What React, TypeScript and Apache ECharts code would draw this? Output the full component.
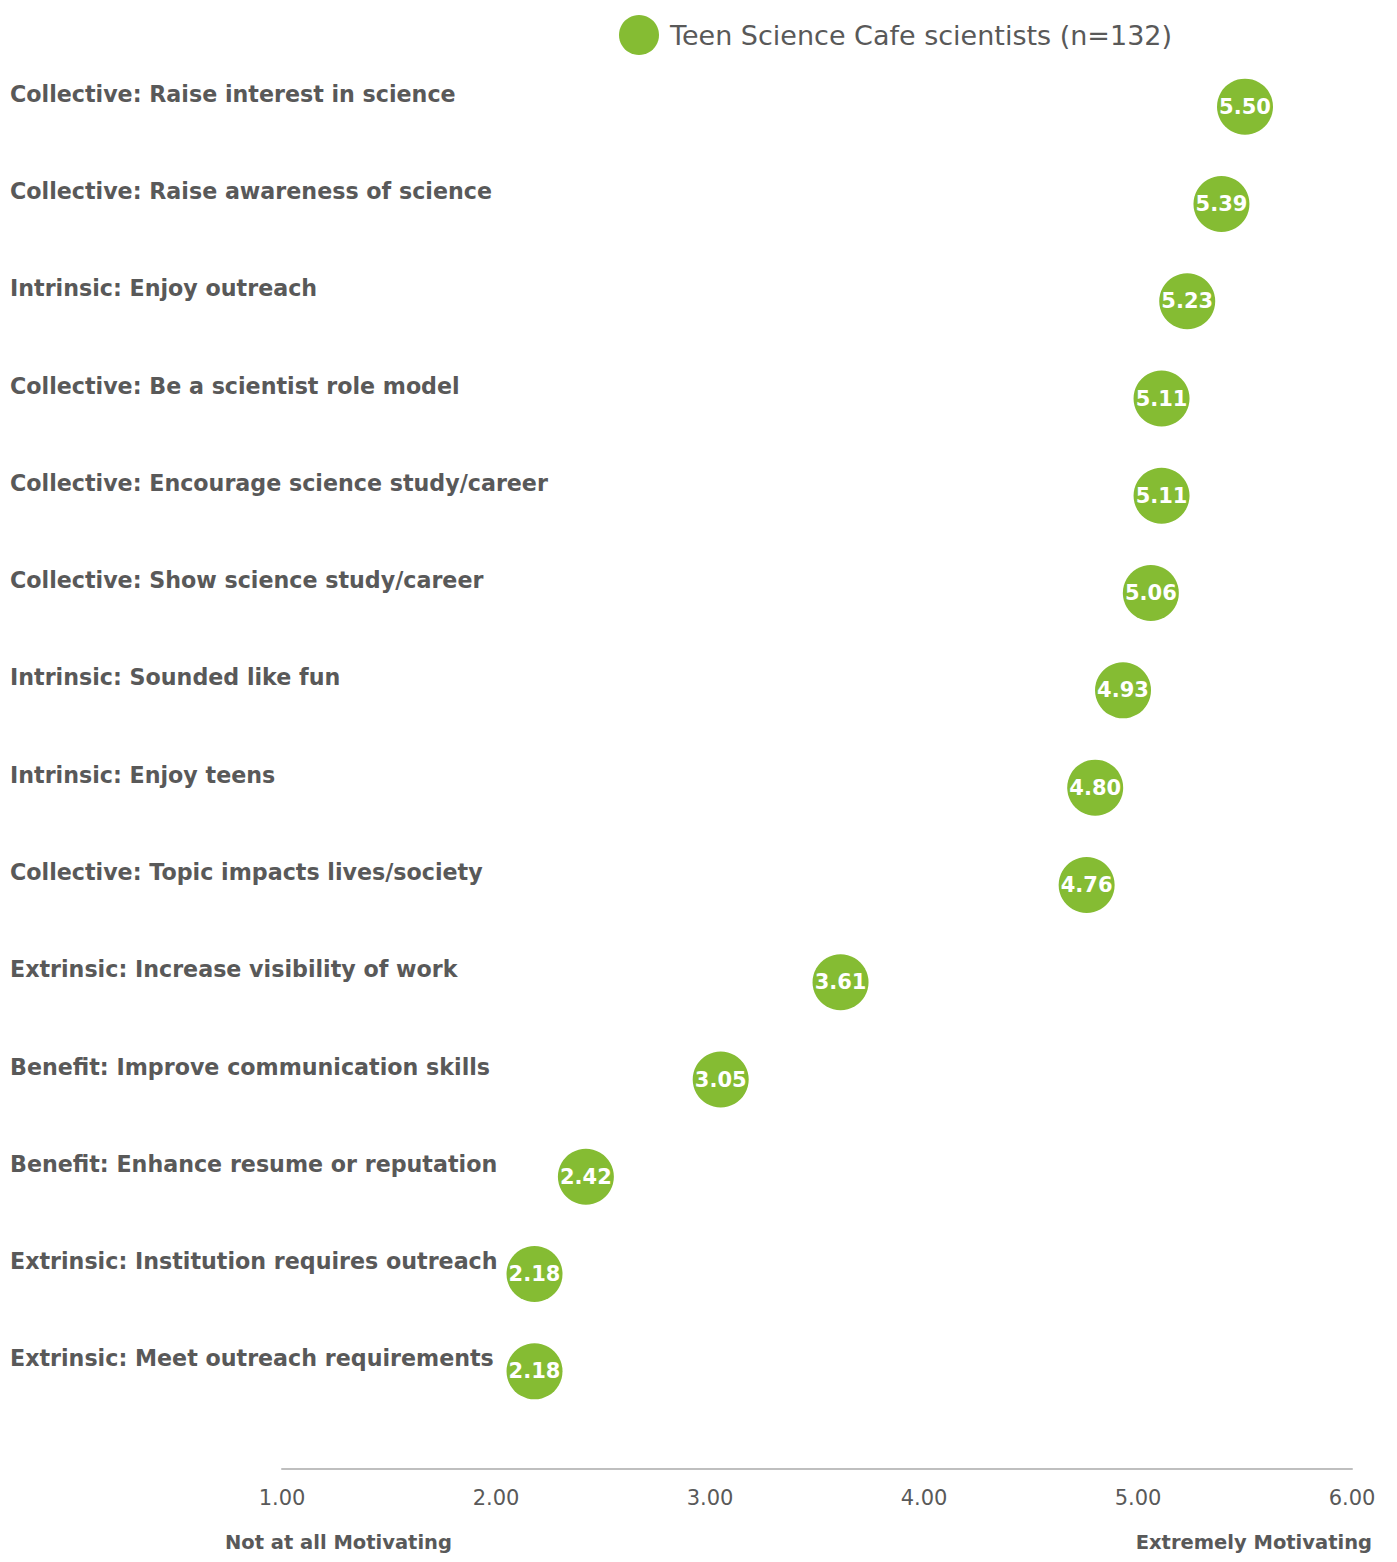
import React, { useEffect, useRef } from "react";
import * as echarts from "echarts";

const categories = [
  "Collective: Raise interest in science",
  "Collective: Raise awareness of science",
  "Intrinsic: Enjoy outreach",
  "Collective: Be a scientist role model",
  "Collective: Encourage science study/career",
  "Collective: Show science study/career",
  "Intrinsic: Sounded like fun",
  "Intrinsic: Enjoy teens",
  "Collective: Topic impacts lives/society",
  "Extrinsic: Increase visibility of work",
  "Benefit: Improve communication skills",
  "Benefit: Enhance resume or reputation",
  "Extrinsic: Institution requires outreach",
  "Extrinsic: Meet outreach requirements",
];
const values = [5.5, 5.39, 5.23, 5.11, 5.11, 5.06, 4.93, 4.8, 4.76, 3.61, 3.05, 2.42, 2.18, 2.18];
const seriesName = "Teen Science Cafe scientists (n=132)";
const axisMin = 1;
const axisMax = 6;
const leftAxisTitle = "Not at all Motivating";
const rightAxisTitle = "Extremely Motivating";

const GREEN = "#85bc33";
const GRAY = "#595959";
const FONT = "DejaVu Sans";

export default function App() {
  const ref = useRef<HTMLDivElement>(null);
  useEffect(() => {
    if (!ref.current) return;
    const chart = echarts.init(ref.current, null, { renderer: "svg" });
    chart.setOption({
      animation: false,
      textStyle: { fontFamily: FONT },
      legend: {
        left: 619,
        top: 15,
        padding: 0,
        icon: "circle",
        itemWidth: 40,
        itemHeight: 40,
        textStyle: { fontSize: 27, color: GRAY, fontFamily: FONT, padding: [0, 0, 0, 6] },
        data: [seriesName],
      },
      grid: { left: 282, right: 45, top: 58, bottom: 142, containLabel: false },
      xAxis: {
        type: "value",
        min: axisMin,
        max: axisMax,
        interval: 1,
        offset: 49,
        axisLine: { show: true, lineStyle: { color: "#bfbfbf", width: 2 } },
        axisTick: { show: false },
        splitLine: { show: false },
        axisLabel: {
          margin: 18,
          fontSize: 21,
          color: GRAY,
          fontFamily: FONT,
          formatter: (v: number) => v.toFixed(2),
        },
      },
      yAxis: {
        type: "category",
        inverse: true,
        data: categories,
        axisLine: { show: false },
        axisTick: { show: false },
        splitLine: { show: false },
        axisLabel: {
          align: "left",
          margin: 272,
          verticalAlign: "bottom",
          lineHeight: 26,
          fontSize: 22.2,
          fontWeight: "bold",
          color: GRAY,
          fontFamily: FONT,
        },
      },
      series: [
        {
          name: seriesName,
          type: "scatter",
          symbol: "circle",
          symbolSize: 56,
          itemStyle: { color: GREEN, opacity: 1 },
          data: values.map((v, i) => [v, categories[i]]),
          label: {
            show: true,
            position: "inside",
            color: "#ffffff",
            fontWeight: "bold",
            fontSize: 21,
            fontFamily: FONT,
            formatter: (p: any) => Number(p.value[0]).toFixed(2),
          },
        },
      ],
      graphic: [
        {
          type: "text",
          left: 225,
          top: 1532,
          style: { text: leftAxisTitle, fill: GRAY, font: `bold 19.5px '${FONT}'` },
        },
        {
          type: "text",
          right: 25,
          top: 1532,
          style: { text: rightAxisTitle, fill: GRAY, font: `bold 19.5px '${FONT}'` },
        },
      ],
    });
    return () => chart.dispose();
  }, []);
  return <div ref={ref} style={{ width: 1397, height: 1562, margin: -8 }} />;
}
